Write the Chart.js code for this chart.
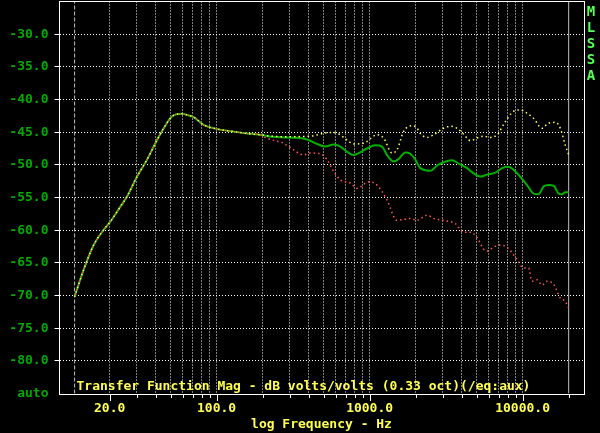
<!DOCTYPE html>
<html>
<head>
<meta charset="utf-8">
<script src="https://cdn.jsdelivr.net/npm/chart.js@4.4.1/dist/chart.umd.min.js"></script>
<style>
  html, body { margin: 0; padding: 0; background: #000; }
</style>
</head>
<body>
<canvas id="mlssaChart" width="600" height="433"></canvas>
<script>
// frequency (Hz) / level (dB volts/volts)
const sharedFreq = [11.8, 13.5, 15.7, 18.2, 20.2, 23.5, 25.9, 30.2, 35.1, 40.8, 45.1, 51.1, 59.4, 64, 70.8, 82.3, 100, 128, 158, 193];
const sharedDb   = [-70.2, -66.1, -62.3, -60.0, -58.7, -56.4, -54.9, -51.8, -49.2, -46.2, -44.4, -42.6, -42.2, -42.35, -42.7, -43.9, -44.5, -44.9, -45.2, -45.4];

const yellowFreq = [224, 288, 409, 553, 612, 711, 785, 914, 1117, 1235, 1401, 1510, 1668, 1892, 2043, 2143, 2371, 2620, 3046, 3368, 3722, 4115, 4548, 5030, 5558, 6146, 6800, 7711, 8736, 9660, 10690, 11810, 13390, 14800, 16370, 17640, 19010, 19970];
const yellowDb   = [-45.6, -45.7, -45.6, -45.05, -45.15, -46.2, -46.8, -46.7, -45.4, -45.9, -48.2, -47.7, -44.9, -44.0, -44.4, -45.2, -45.8, -45.4, -44.4, -44.1, -44.4, -45.3, -46.3, -45.9, -45.6, -45.8, -45.4, -43.4, -41.8, -41.6, -42.1, -42.9, -44.4, -43.6, -43.5, -44.4, -47.0, -48.4];

const greenFreq = [230, 274, 352, 399, 453, 513, 582, 643, 711, 785, 868, 961, 1089, 1205, 1300, 1435, 1549, 1711, 1845, 1990, 2143, 2494, 2760, 3046, 3458, 3822, 4335, 4787, 5295, 5855, 6632, 7333, 8095, 9190, 10690, 11810, 12730, 13720, 14800, 15950, 17190, 18110, 19010, 19970];
const greenDb   = [-45.7, -45.8, -45.9, -46.2, -46.8, -47.2, -46.9, -47.2, -48.0, -48.5, -48.1, -47.5, -47.0, -47.2, -48.5, -49.5, -49.1, -48.1, -48.3, -49.2, -50.5, -50.9, -50.1, -49.6, -49.3, -49.8, -50.5, -51.3, -51.8, -51.5, -51.2, -50.5, -50.3, -51.3, -53.1, -54.4, -54.5, -53.3, -53.1, -53.2, -54.4, -54.5, -54.2, -54.2];

const redFreq = [203, 224, 274, 318, 370, 409, 476, 527, 582, 643, 750, 828, 985, 1117, 1300, 1510, 1845, 2043, 2371, 2620, 3046, 3631, 4115, 4548, 5030, 5558, 5855, 6460, 7142, 7906, 9190, 10160, 10940, 11520, 12420, 13390, 14420, 15950, 17640, 19010, 19970];
const redDb   = [-45.7, -46.1, -46.7, -47.7, -48.5, -48.2, -48.3, -49.2, -51.0, -52.3, -52.8, -53.6, -52.6, -53.1, -55.4, -58.5, -58.2, -58.5, -57.7, -58.2, -58.5, -59.0, -60.3, -60.3, -61.1, -62.9, -63.2, -62.6, -62.3, -62.6, -64.5, -65.8, -65.8, -67.8, -67.6, -68.4, -67.8, -68.3, -70.4, -70.9, -71.9];

// cursor lines (left dashed, right solid)
const cursorFreq = [11.8, 20000];

const xRange = [9.4, 25000];
const yRange = [-85, -25];
const xLabelFreq = [20, 100, 1000, 10000];
const titleText = 'Transfer Function Mag - dB volts/volts (0.33 oct)(/eq:aux)';
const sideText = 'MLSSA';

const FONT = '"DejaVu Sans Mono", "Liberation Mono", monospace';

function toPoints(fa, da) {
  return fa.map((f, i) => ({ x: f, y: da[i] }));
}
function series(freq, db) {
  return toPoints(sharedFreq, sharedDb).concat(toPoints(freq, db));
}

// grid positions 20..90, 100..900, 1000..9000, 10000, 20000
const xGridFreq = [];
for (let dec = 10; dec <= 1000; dec *= 10) {
  for (let m = (dec === 10 ? 2 : 1); m <= 9; m++) xGridFreq.push(m * dec);
}
xGridFreq.push(10000, 20000);

const framePlugin = {
  id: 'frame',
  afterDraw(chart) {
    const { ctx, chartArea: a, scales: { x } } = chart;
    ctx.save();
    ctx.strokeStyle = '#ffffff';
    ctx.lineWidth = 1;
    ctx.strokeRect(Math.round(a.left) - 0.5, Math.round(a.top) - 0.5,
      Math.round(a.right - a.left) + 1, Math.round(a.bottom - a.top) + 1);

    // x tick marks: long on labelled decades, short elsewhere
    ctx.beginPath();
    x.ticks.forEach(t => {
      const px = Math.round(x.getPixelForValue(t.value)) + 0.5;
      const len = xLabelFreq.includes(t.value) ? 7 : 4;
      ctx.moveTo(px, Math.round(a.bottom));
      ctx.lineTo(px, Math.round(a.bottom) + len);
    });
    ctx.stroke();

    ctx.font = 'bold 13px ' + FONT;
    ctx.fillStyle = '#ffff55';
    ctx.textAlign = 'left';
    ctx.textBaseline = 'alphabetic';
    ctx.fillText(titleText, a.left + 17, a.bottom - 4);

    ctx.font = 'bold 14px ' + FONT;
    ctx.fillStyle = '#55ff55';
    ctx.textAlign = 'center';
    sideText.split('').forEach((c, i) => ctx.fillText(c, 591, 16 + i * 16));
    ctx.restore();
  }
};

const cursorSets = cursorFreq.map((f, i) => ({
  data: [{ x: f, y: yRange[0] }, { x: f, y: yRange[1] }],
  borderColor: '#c0c0c0',
  borderWidth: 1,
  borderDash: i === 0 ? [4, 2] : [],
  pointRadius: 0,
  order: 5
}));

new Chart(document.getElementById('mlssaChart'), {
  type: 'line',
  data: {
    datasets: [
      {
        label: 'yellow',
        data: series(yellowFreq, yellowDb),
        borderColor: '#ffff55',
        borderWidth: 1.5,
        borderDash: [1.5, 3],
        pointRadius: 0,
        cubicInterpolationMode: 'monotone',
        order: 0
      },
      {
        label: 'red',
        data: series(redFreq, redDb),
        borderColor: '#ff5555',
        borderWidth: 1.5,
        borderDash: [1.5, 3],
        borderDashOffset: 2.2,
        pointRadius: 0,
        cubicInterpolationMode: 'monotone',
        order: 1
      },
      {
        label: 'green',
        data: series(greenFreq, greenDb),
        borderColor: '#00b000',
        borderWidth: 2,
        pointRadius: 0,
        cubicInterpolationMode: 'monotone',
        order: 2
      },
      ...cursorSets
    ]
  },
  options: {
    responsive: false,
    animation: false,
    devicePixelRatio: 1,
    layout: { padding: { top: 1.5, right: 16.5, left: 0, bottom: 0 } },
    plugins: { legend: { display: false }, tooltip: { enabled: false } },
    scales: {
      x: {
        type: 'logarithmic',
        min: xRange[0],
        max: xRange[1],
        afterBuildTicks: scale => { scale.ticks = xGridFreq.map(v => ({ value: v })); },
        afterFit: scale => { scale.height = 39.5; scale.paddingLeft = 0; scale.paddingRight = 0; },
        grid: {
          color: ctx => (ctx.tick && ctx.tick.value === 20000) ? 'transparent' : '#ffffff',
          lineWidth: 1,
          drawTicks: false
        },
        border: { display: false, dash: [1, 2] },
        ticks: {
          autoSkip: false,
          maxRotation: 0,
          padding: 7,
          color: '#ffff55',
          font: { family: FONT, size: 13, weight: 'bold' },
          callback: v => xLabelFreq.includes(v) ? v.toFixed(1) : ''
        },
        title: {
          display: true,
          text: 'log Frequency - Hz',
          color: '#ffff55',
          font: { family: FONT, size: 13, weight: 'bold' },
          padding: { top: 0, bottom: 1 }
        }
      },
      y: {
        min: yRange[0],
        max: yRange[1],
        afterFit: scale => { scale.width = 59.5; scale.paddingTop = 0; scale.paddingBottom = 0; },
        grid: {
          color: ctx => (ctx.tick && (ctx.tick.value === yRange[0] || ctx.tick.value === yRange[1])) ? 'transparent' : '#ffffff',
          tickColor: ctx => (ctx.tick && (ctx.tick.value === yRange[0] || ctx.tick.value === yRange[1])) ? 'transparent' : '#ffffff',
          tickBorderDash: [],
          tickLength: 5,
          lineWidth: 1
        },
        border: { display: false, dash: [1, 2] },
        ticks: {
          stepSize: 5,
          padding: 6,
          color: '#00aa00',
          font: { family: FONT, size: 13, weight: 'bold' },
          callback: v => v === yRange[0] ? 'auto' : (v === yRange[1] ? '' : v.toFixed(1))
        }
      }
    }
  },
  plugins: [framePlugin]
});
</script>
</body>
</html>
